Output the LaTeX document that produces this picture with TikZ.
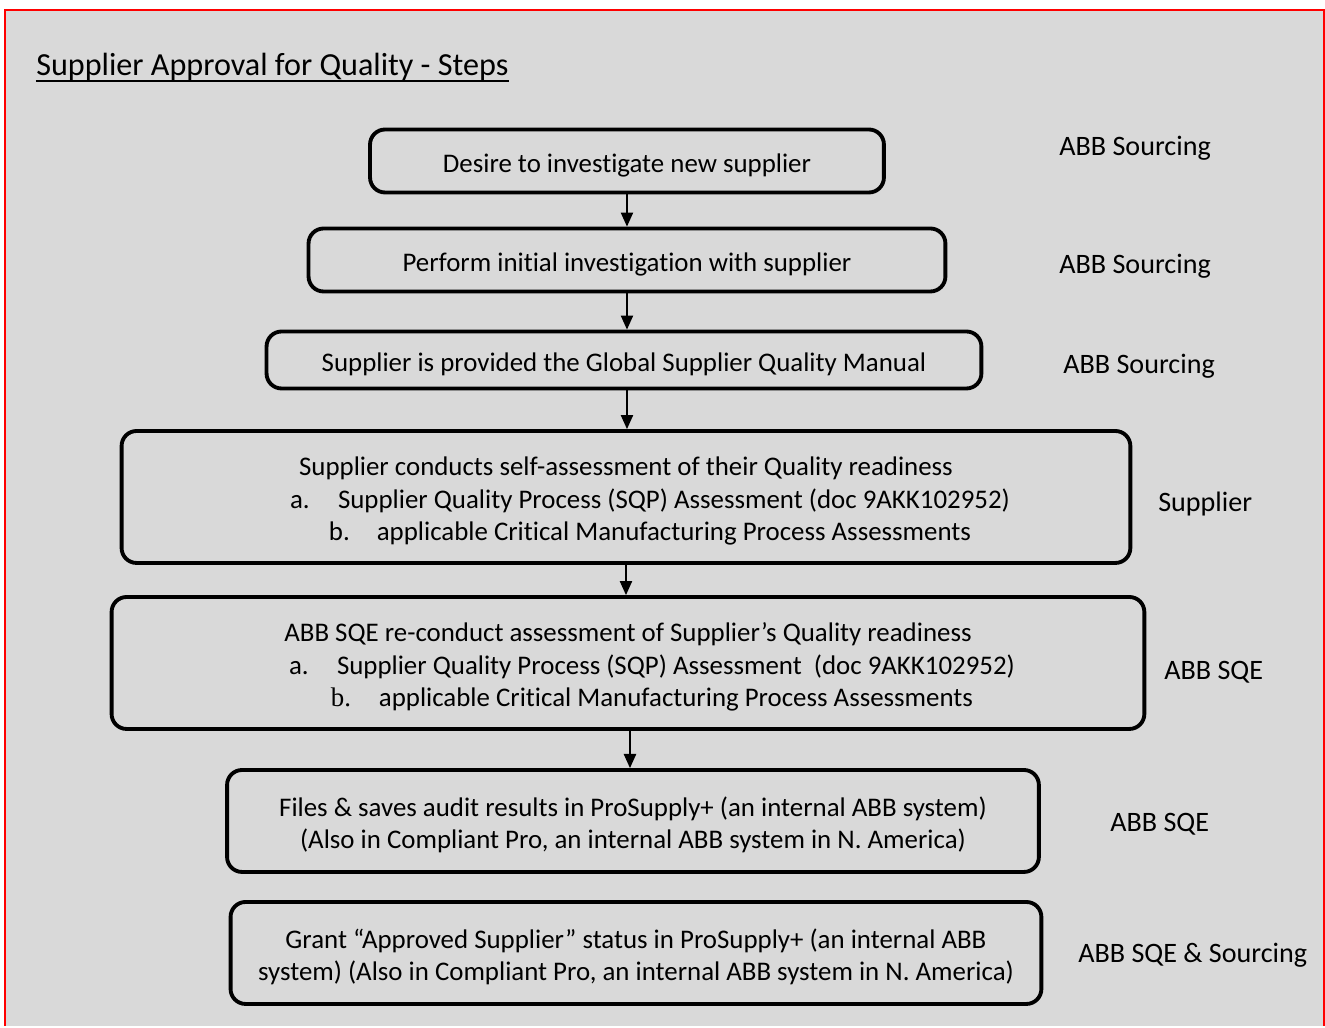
\documentclass[tikz,border=0pt]{standalone}
\usepackage{fontspec}
\setmainfont{Carlito}[Ligatures=NoCommon]
\newfontfamily\serifb{Liberation Serif}
\usepackage{tikz}
\usetikzlibrary{arrows.meta,positioning}
\definecolor{mybggray}{RGB}{217,217,217}
\definecolor{myframered}{RGB}{255,0,0}
\tikzstyle{stepbox}=[draw,line width=2.2pt,rounded corners=0.3cm,fill=mybggray,inner sep=0pt]
\tikzstyle{steptext}=[align=center,inner sep=0pt,font=\fontsize{15.3}{18.6}\selectfont]
\tikzstyle{role}=[anchor=west,inner sep=0pt,font=\fontsize{16}{19}\selectfont]
\newcommand{\lbl}[1]{\hspace*{0.96cm}\makebox[0.96cm][l]{#1}}

\begin{document}
\begin{tikzpicture}[x=0.02cm,y=-0.02cm]
\tikzstyle{arr}=[line width=0.8pt,-{Triangle[length=8pt,width=7pt]}]
% page and frame
\fill[white] (0,0) rectangle (1325,1026);
\fill[mybggray] (5,10) rectangle (1324,1026);
\draw[myframered,line width=1.2pt] (5,1026) -- (5,10) -- (1324,10) -- (1324,1026);
\useasboundingbox (0,0) rectangle (1325,1026);
% title
\draw (36,76) node [anchor=base west,inner sep=0pt,font=\fontsize{18.3}{22}\selectfont] (title) {Supplier Approval for Quality - Steps};
\draw[line width=1.4pt] ([yshift=-0.1cm]title.base west) -- ([yshift=-0.1cm]title.base east);
% steps (box, then its text a little lower)
\draw (627,161) node [stepbox,minimum width=10.28cm,minimum height=1.26cm] (n1) {}
  ++(0,4) node [steptext] (t1) {Desire to investigate new supplier};
\draw (627,260) node [stepbox,minimum width=12.74cm,minimum height=1.26cm] (n2) {}
  ++(0,4) node [steptext] (t2) {Perform initial investigation with supplier};
\draw (624,360) node [stepbox,minimum width=14.3cm,minimum height=1.14cm] (n3) {}
  ++(0,4) node [steptext] (t3) {Supplier is provided the Global Supplier Quality Manual};
\draw (626,497) node [stepbox,minimum width=20.18cm,minimum height=2.64cm] (n4) {}
  ++(0,4) node [steptext] (t4) {Supplier conducts self-assessment of their Quality readiness\\
\lbl{a.}Supplier Quality Process (SQP) Assessment (doc 9AKK102952)\\
\lbl{b.}applicable Critical Manufacturing Process Assessments};
\draw (628,663) node [stepbox,minimum width=20.66cm,minimum height=2.64cm] (n5) {}
  ++(0,4) node [steptext] (t5) {ABB SQE re-conduct assessment of Supplier's Quality readiness\\
\lbl{a.}Supplier Quality Process (SQP) Assessment\ \ (doc 9AKK102952)\\
\lbl{{\serifb b.}}applicable Critical Manufacturing Process Assessments};
\draw (633,821) node [stepbox,minimum width=16.24cm,minimum height=2.04cm] (n6) {}
  ++(0,4) node [steptext] (t6) {Files \& saves audit results in ProSupply+ (an internal ABB system)\\
(Also in Compliant Pro, an internal ABB system in N. America)};
\draw (636,953) node [stepbox,minimum width=16.22cm,minimum height=2.04cm] (n7) {}
  ++(0,4) node [steptext] (t7) {Grant “Approved Supplier” status in ProSupply+ (an internal ABB\\
system) (Also in Compliant Pro, an internal ABB system in N. America)};
% arrows
\draw[arr] (n1.south) -- (n1.south |- n2.north);
\draw[arr] (n2.south) -- (n2.south |- n3.north);
\draw[arr] ([xshift=0.06cm]n3.south) -- ([xshift=0.06cm]n3.south |- n4.north);
\draw[arr] (n4.south) -- (n4.south |- n5.north);
\draw[arr] ([xshift=0.04cm]n5.south) -- ([xshift=0.04cm]n5.south |- n6.north);
% who does it
\draw (1059,148) node [role] (r1) {ABB Sourcing};
\draw (1059,266) node [role] (r2) {ABB Sourcing};
\draw (1063,366) node [role] (r3) {ABB Sourcing};
\draw (1158,504) node [role] (r4) {Supplier};
\draw (1164,672) node [role] (r5) {ABB SQE};
\draw (1110,824) node [role] (r6) {ABB SQE};
\draw (1078,955) node [role] (r7) {ABB SQE \& Sourcing};
\end{tikzpicture}
\end{document}
